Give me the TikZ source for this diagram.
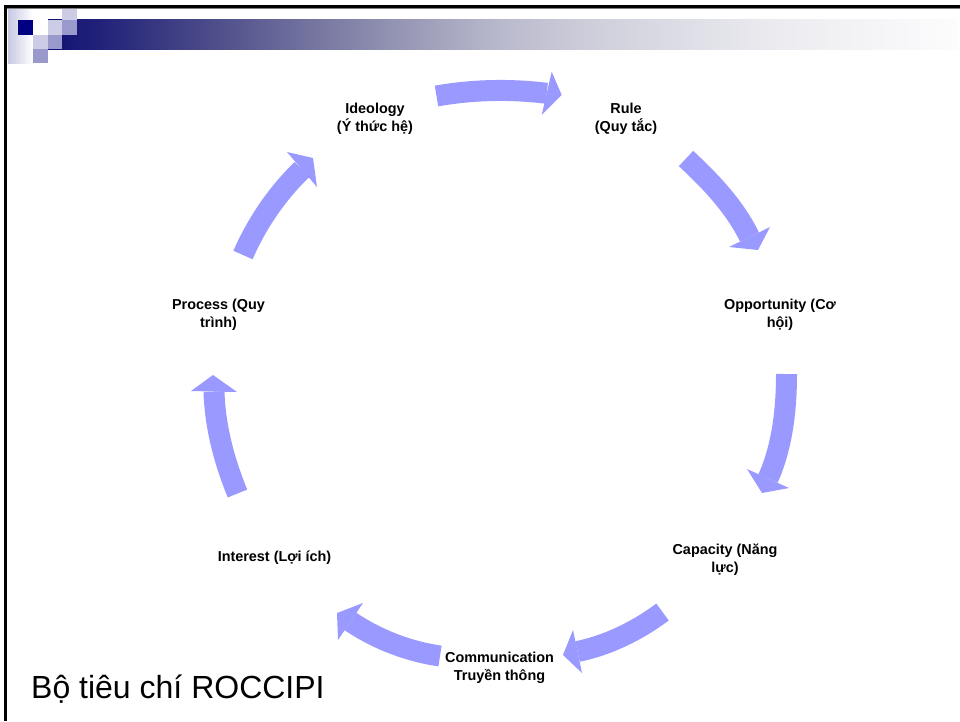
\documentclass[tikz,border=0pt]{standalone}
\usepackage{fontspec}
\setmainfont{Liberation Sans}
\definecolor{arrowblue}{RGB}{153,153,255}
\definecolor{navysq}{RGB}{0,0,128}
\definecolor{lightsq}{RGB}{204,204,230}
\definecolor{medsq}{RGB}{153,153,204}
\definecolor{lavleft}{RGB}{200,200,228}
\definecolor{gA}{RGB}{16,16,118}
\definecolor{gB}{RGB}{34,34,122}
\definecolor{gC}{RGB}{72,72,135}
\definecolor{gD}{RGB}{112,112,158}
\definecolor{gE}{RGB}{150,150,180}
\definecolor{gF}{RGB}{185,185,205}
\definecolor{gG}{RGB}{208,208,220}
\definecolor{gH}{RGB}{224,224,232}
\definecolor{gI}{RGB}{238,238,242}
\definecolor{gJ}{RGB}{252,252,253}
\begin{document}
\begin{tikzpicture}[x=1pt,y=-1pt,
  lbl/.style={font=\fontsize{14.4}{17.5}\selectfont\bfseries, align=center, inner sep=0pt, anchor=north},
  arrbody/.style={draw=arrowblue, line width=21pt},
  arrhead/.style={fill=arrowblue},
  sq/.style={inner sep=0pt}]
\useasboundingbox (0,0) rectangle (960,721);
\fill[white] (0,0) rectangle (960,721);

% title bar gradient
\shade[left color=gA, right color=gB] (48,19.5) rectangle (100.5,49);
\shade[left color=gB, right color=gC] (100,19.5) rectangle (200.5,49);
\shade[left color=gC, right color=gD] (200,19.5) rectangle (300.5,49);
\shade[left color=gD, right color=gE] (300,19.5) rectangle (400.5,49);
\shade[left color=gE, right color=gF] (400,19.5) rectangle (500.5,49);
\shade[left color=gF, right color=gG] (500,19.5) rectangle (600.5,49);
\shade[left color=gG, right color=gH] (600,19.5) rectangle (700.5,49);
\shade[left color=gH, right color=gI] (700,19.5) rectangle (800.5,49);
\shade[left color=gI, right color=gJ] (800,19.5) rectangle (958,49);

% decoration squares
\shade[left color=lavleft, right color=white] (8,8.5) rectangle (33,63);
\fill[navysq] (18,20) rectangle (33,35);
\fill[lightsq] (48,20) rectangle (62,35);
\fill[lightsq] (62,8) rectangle (77,20);
\fill[medsq] (62,20) rectangle (77,35);
\fill[lightsq] (33,35) rectangle (48,49);
\fill[medsq] (48,35) rectangle (62,49);
\fill[medsq] (33,49) rectangle (48,63);

% frame
\fill[black] (4,5) rectangle (960,8);
\fill[gray] (7,8) rectangle (960,9.3);
\fill[black] (4,5) rectangle (7,721);

% labels
\node[lbl] (ideo) at (375,103) {Ideology\\(Ý thức hệ)};
\node[lbl] (rule) at (626,103) {Rule\\(Quy tắc)};
\node[lbl] (opp) at (780,299) {Opportunity (Cơ\\hội)};
\node[lbl] (cap) at (725,544) {Capacity (Năng\\lực)};
\node[lbl] (comm) at (499.5,652) {Communication\\Truyền thông};
\node[lbl] (inter) at (274.5,550.6) {Interest (Lợi ích)};
\node[lbl] (proc) at (218.5,299) {Process (Quy\\trình)};

\node[inner sep=0pt, anchor=base west, font=\fontsize{32}{38}\selectfont] (title) at (31,698) {Bộ tiêu chí ROCCIPI};

% arrow 1: Ideology -> Rule
\coordinate (a1t) at (436.5,96); \coordinate (a1m) at (546.7,93.3);
\coordinate (a1p) at (561.7,95); \coordinate (a1u) at (551.7,71.7); \coordinate (a1v) at (541.7,115);
\draw[arrbody] (a1t) .. controls (472.9,89.6) and (510,88.8) .. (a1m);
\fill[arrhead] (a1u) -- (a1p) -- (a1v) -- cycle;

% arrow 2: Rule -> Opportunity
\coordinate (a2t) at (686,158.5); \coordinate (a2m) at (749.5,237);
\coordinate (a2p) at (758,250); \coordinate (a2u) at (770,227); \coordinate (a2v) at (729,247);
\draw[arrbody] (a2t) .. controls (710.8,181.6) and (734.5,206.4) .. (a2m);
\fill[arrhead] (a2u) -- (a2p) -- (a2v) -- cycle;

% arrow 3: Opportunity -> Capacity
\coordinate (a3t) at (786.5,374); \coordinate (a3m) at (768,478.5);
\coordinate (a3p) at (762,493); \coordinate (a3u) at (789,488); \coordinate (a3v) at (747,469);
\draw[arrbody] (a3t) .. controls (786.5,409) and (782.4,446.6) .. (a3m);
\fill[arrhead] (a3u) -- (a3p) -- (a3v) -- cycle;

% arrow 4: Capacity -> Communication
\coordinate (a4t) at (662.5,612); \coordinate (a4m) at (577.5,651.5);
\coordinate (a4p) at (563,655); \coordinate (a4u) at (582,673); \coordinate (a4v) at (573,630);
\draw[arrbody] (a4t) .. controls (637.7,630.6) and (607.9,645.3) .. (a4m);
\fill[arrhead] (a4u) -- (a4p) -- (a4v) -- cycle;

% arrow 5: Communication -> Interest
\coordinate (a5t) at (440,656); \coordinate (a5m) at (350.5,621.5);
\coordinate (a5p) at (337,613); \coordinate (a5u) at (338,640); \coordinate (a5v) at (363,603);
\draw[arrbody] (a5t) .. controls (408.3,651.4) and (377.1,639.4) .. (a5m);
\fill[arrhead] (a5u) -- (a5p) -- (a5v) -- cycle;

% arrow 6: Interest -> Process
\coordinate (a6t) at (237.5,493.5); \coordinate (a6m) at (214,391.5);
\coordinate (a6p) at (213,375); \coordinate (a6u) at (191,391); \coordinate (a6v) at (237,392);
\draw[arrbody] (a6t) .. controls (224.2,461.1) and (215,426.5) .. (a6m);
\fill[arrhead] (a6u) -- (a6p) -- (a6v) -- cycle;

% arrow 7: Process -> Ideology
\coordinate (a7t) at (243,255); \coordinate (a7m) at (302,169.5);
\coordinate (a7p) at (313,158); \coordinate (a7u) at (287,152); \coordinate (a7v) at (317,187);
\draw[arrbody] (a7t) .. controls (256.8,223.3) and (277.2,193.3) .. (a7m);
\fill[arrhead] (a7u) -- (a7p) -- (a7v) -- cycle;
\end{tikzpicture}
\end{document}
